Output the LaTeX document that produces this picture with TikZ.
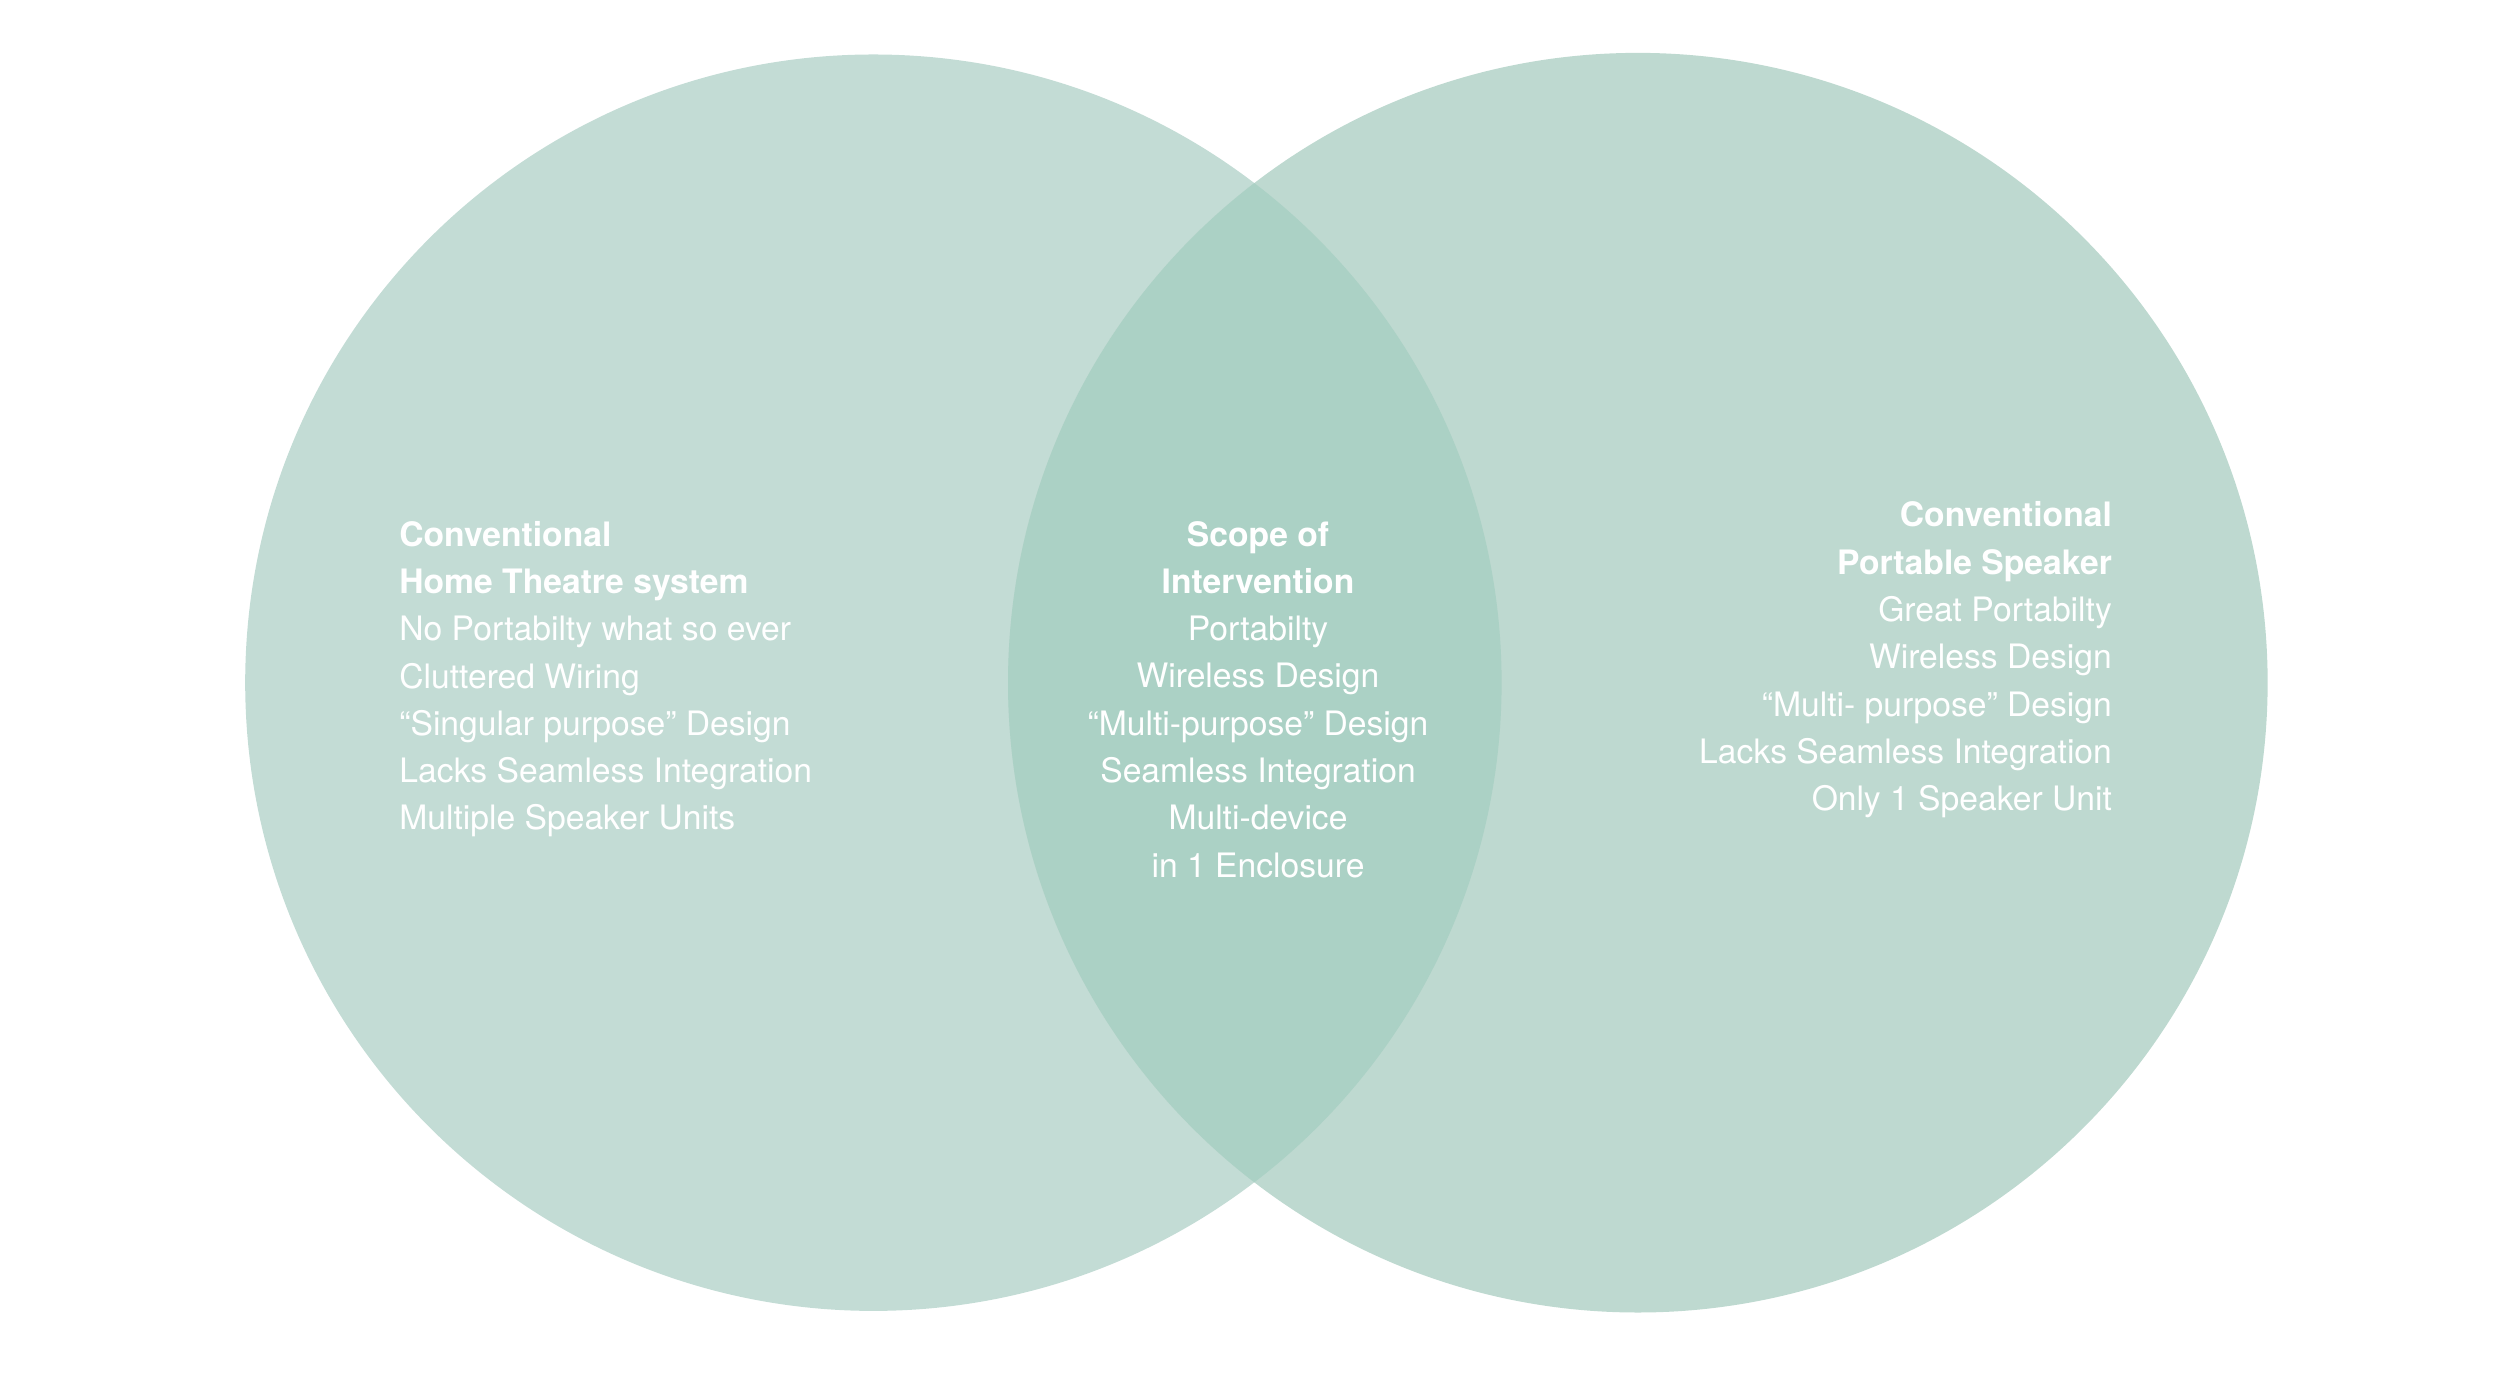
\documentclass[tikz,border=0pt]{standalone}
\usepackage{fontspec}
\setmainfont{TeX Gyre Heros}
\definecolor{lc}{HTML}{C3DCD5}
\definecolor{rc}{HTML}{BED9D0}
\definecolor{mc}{HTML}{ABD1C5}
\tikzset{txt/.style={text=white,font=\fontsize{21}{29.5}\selectfont,inner sep=0pt}}
\begin{document}
\begin{tikzpicture}[x=1pt,y=-1pt]
\useasboundingbox (0,0) rectangle (1560,868.6);
\fill[lc] (545,426) circle (392);
\fill[rc] (1022,426) circle (393);
\begin{scope}
\clip (545,426) circle (392);
\fill[mc] (1022,426) circle (393);
\end{scope}
\node[txt,align=left,anchor=north west] (l) at (249,325) {\textbf{Conventional}\\\textbf{Home Theatre system}\\No Portabilty what so ever\\Cluttered Wiring\\“Singular purpose” Design\\Lacks Seamless Integration\\Multiple Speaker Units};
\node[txt,align=center,anchor=north] (m) at (785,325) {\textbf{Scope of}\\\textbf{Intervention}\\Portabilty\\Wireless Design\\“Multi-purpose” Design\\Seamless Integration\\Multi-device\\in 1 Enclosure};
\node[txt,align=right,anchor=north east] (r) at (1318,313) {\textbf{Conventional}\\\textbf{Portable Speaker}\\Great Portabilty\\Wireless Design\\“Multi- purpose” Design\\Lacks Seamless Integration\\Only 1 Speaker Unit};
\end{tikzpicture}
\end{document}
